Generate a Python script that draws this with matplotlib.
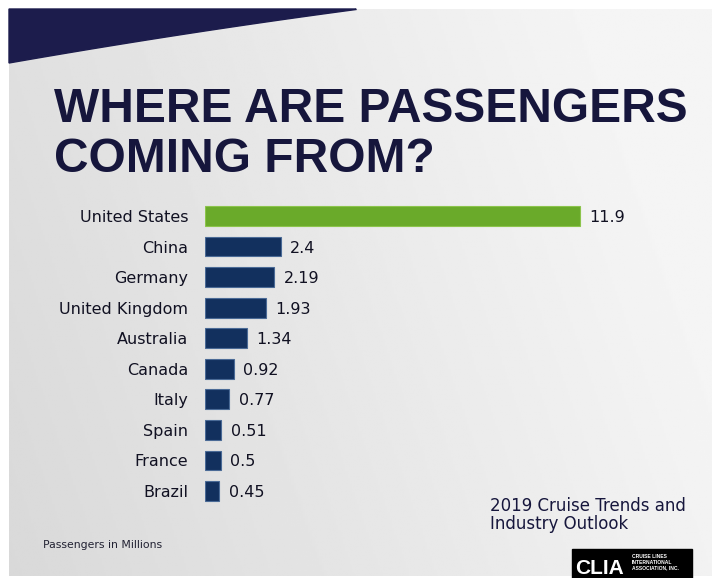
import numpy as np
import matplotlib.pyplot as plt
from matplotlib.patches import Polygon, Rectangle

countries = ["United States", "China", "Germany", "United Kingdom", "Australia",
             "Canada", "Italy", "Spain", "France", "Brazil"]
passengers = [11.9, 2.4, 2.19, 1.93, 1.34, 0.92, 0.77, 0.51, 0.5, 0.45]
value_labels = ["11.9", "2.4", "2.19", "1.93", "1.34", "0.92", "0.77", "0.51", "0.5", "0.45"]

W, H = 716, 578
navy = "#16163c"
body = "DejaVu Sans"

fig = plt.figure(figsize=(W / 100, H / 100), dpi=100)
fig.patch.set_facecolor("white")

# slide background, pixel coordinates
bg = fig.add_axes([0, 0, 1, 1])
bg.set_xlim(0, W)
bg.set_ylim(H, 0)
bg.axis("off")

gx = np.linspace(0, 1, 300)
gy = np.linspace(0, 1, 240)
X, Y = np.meshgrid(gx, gy)
shade = 0.85 + 0.11 * np.clip(X * 0.9 + (1 - Y) * 0.25, 0, 1)
bg.imshow(shade, cmap="gray", vmin=0, vmax=1, extent=[9, 712, 576, 9],
          aspect="auto", zorder=0)

# dark wedge at top left
edge_x = np.linspace(9, 356, 40)
edge_y = 63 - (edge_x - 9) * 0.175 + (edge_x - 9) ** 2 * 0.00006
wedge = [(9, 9), (356, 9)] + list(zip(edge_x[::-1], edge_y[::-1]))
bg.add_patch(Polygon(wedge, closed=True, color="#1c1c4c", zorder=1))

bg.text(54, 122, "WHERE ARE PASSENGERS", fontsize=34.5, fontweight="bold",
        color=navy, family="Liberation Sans", va="baseline", zorder=2)
bg.text(54, 172, "COMING FROM?", fontsize=34.5, fontweight="bold",
        color=navy, family="Liberation Sans", va="baseline", zorder=2)

bg.text(43, 545, "Passengers in Millions", fontsize=7.8, color="#222233",
        family=body, va="center", zorder=2)
bg.text(490, 515, "2019 Cruise Trends and\nIndustry Outlook", fontsize=12,
        color=navy, family=body, va="center", linespacing=0.95, zorder=2)

# association logo block
bg.add_patch(Rectangle((572, 549), 120, 29, color="black", zorder=2))
bg.text(575, 568, "CLIA", fontsize=15, fontweight="bold", color="white",
        family="Liberation Sans", va="center", zorder=3)
bg.text(632, 562, "CRUISE LINES\nINTERNATIONAL\nASSOCIATION, INC.", fontsize=3.6,
        fontweight="bold", color="white", family="Liberation Sans",
        va="center", linespacing=1.1, zorder=3)

# bar chart
left_px, right_px = 205, 205 + 31.5 * 14
top_px, bottom_px = 200.7, 506.3
ax = fig.add_axes([left_px / W, 1 - bottom_px / H,
                   (right_px - left_px) / W, (bottom_px - top_px) / H])
ax.set_facecolor("none")
ypos = np.arange(len(countries))
colors = ["#6aaa2a"] + ["#12305e"] * (len(countries) - 1)
edges = ["#8cc44c"] + ["#4a6a96"] * (len(countries) - 1)
bars = ax.barh(ypos, passengers, height=0.65, color=colors, edgecolor=edges,
               linewidth=0.8)
ax.set_xlim(0, 14)
ax.set_ylim(len(countries) - 0.5, -0.5)
ax.set_yticks(ypos)
ax.set_yticklabels(countries, fontsize=11.5, color="#111122", family=body,
                   va="center_baseline")
ax.tick_params(axis="y", length=0, pad=12)
ax.set_xticks([])
for s in ax.spines.values():
    s.set_visible(False)

for b, v, lab in zip(bars, passengers, value_labels):
    ax.text(v + 0.3, b.get_y() + b.get_height() / 2, lab, fontsize=11.5,
            color="#111122", family=body, va="center_baseline")

fig.savefig("out.png", dpi=100)
